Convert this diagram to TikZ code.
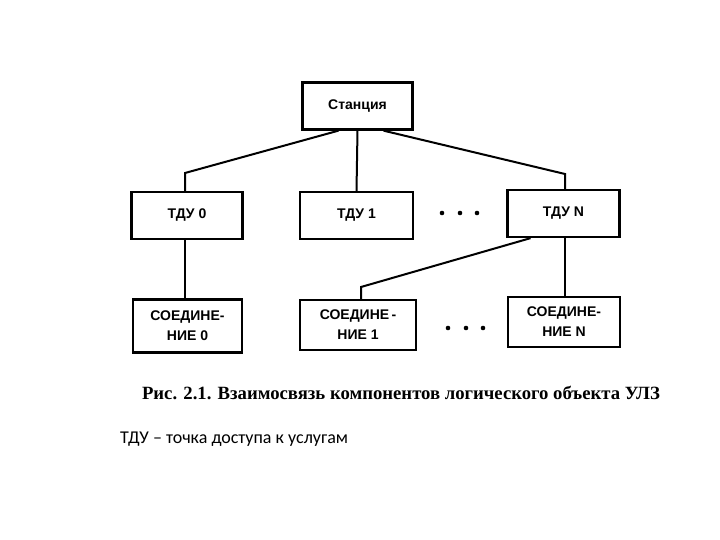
\documentclass[tikz,border=0pt]{standalone}
\usepackage{fontspec}
\setmainfont{Liberation Sans}
\newfontfamily\capfont{Liberation Serif}
\newfontfamily\notefont{Carlito}

\begin{document}
\begin{tikzpicture}[x=1pt,y=-1pt,
    component/.style ={rectangle, draw, line width=2.3pt, minimum width=111pt,
      minimum height=47pt, font=\fontsize{14}{20}\selectfont\bfseries, align=center},
    link/.style ={line width=2pt}]
   \useasboundingbox (0,0) rectangle (720,540);

   \node[component,minimum width=110pt] (st) at (357.5,106) {Станция};
   \node[component] (t0) at (187,215.5) {ТДУ 0};
   \node[component,minimum width=113pt] (t1) at (356.5,215.5) {ТДУ 1};
   \node[component,minimum width=112pt] (tN) at (563.5,213.5) {ТДУ N};
   \node[component,minimum width=109pt,minimum height=53pt] (c0) at (187.5,326) {СОЕДИНЕ-\\НИЕ 0};
   \node[component,minimum width=116pt,minimum height=50pt] (c1) at (358,325) {СОЕДИНЕ\,-\\НИЕ 1};
   \node[component,minimum width=112pt,minimum height=50pt] (cN) at (564,322) {СОЕДИНЕ-\\НИЕ N};

   \coordinate (b0) at (185,173);
   \coordinate (bN) at (565,174);
   \coordinate (b1) at (361,287);

   \draw[link] ([xshift=-19pt]st.south) -- (b0) -- (b0 |- t0.north);
   \draw[link] (st.south) -- (t1.north);
   \draw[link] ([xshift=26pt]st.south) -- (bN) -- (bN |- tN.north);
   \draw[link] (t0.south -| b0) -- (c0.north -| b0);
   \draw[link] ([xshift=-33pt]tN.south) -- (b1) -- (b1 |- c1.north);
   \draw[link] (tN.south -| bN) -- (cN.north -| bN);

   \foreach \x in {442,460,477} \fill (\x,213) circle (2.3pt);
   \foreach \x in {448,466,483} \fill (\x,328) circle (2.3pt);

   \node[anchor=base, font=\capfont\fontsize{18.7}{20}\selectfont\bfseries] (cap) at (401,399)
     {Рис. 2.1. Взаимосвязь компонентов логического объекта УЛЗ};
   \node[anchor=base west, inner sep=0pt, font=\notefont\fontsize{18}{20}\selectfont] (note) at (120,443)
     {ТДУ – точка доступа к услугам};
 \end{tikzpicture}
\end{document}
